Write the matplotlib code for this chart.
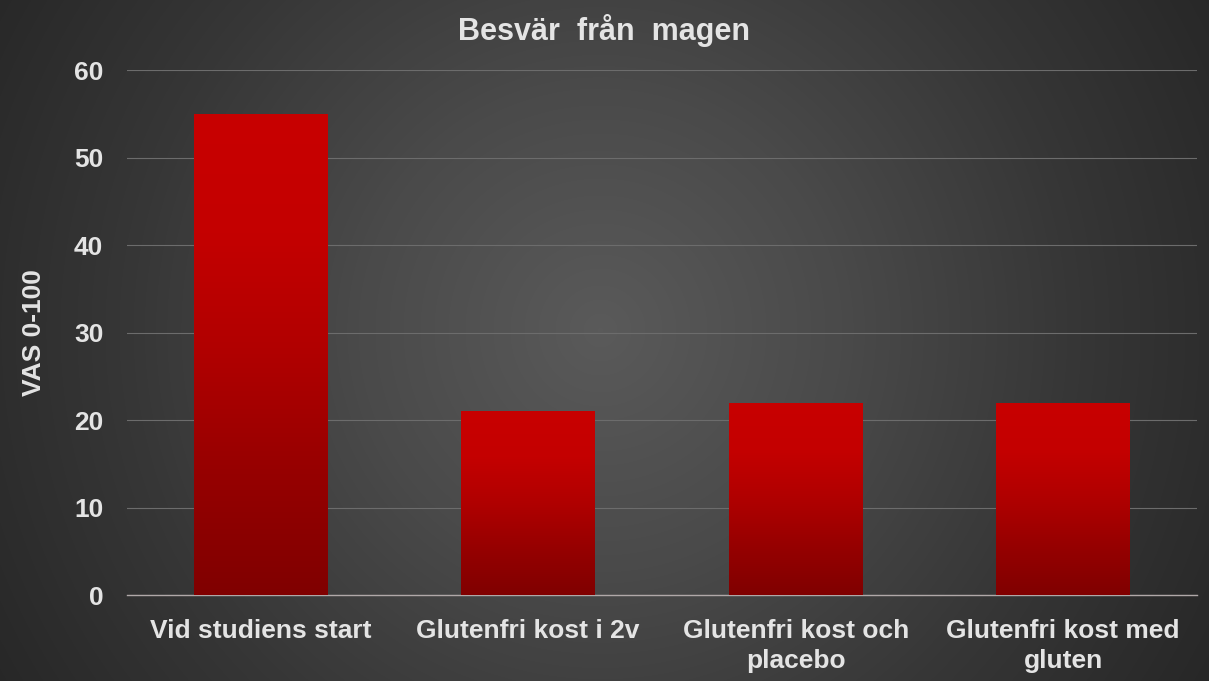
import matplotlib.pyplot as plt
import numpy as np
from matplotlib.colors import LinearSegmentedColormap

plt.rcParams['font.family'] = ['Liberation Sans', 'DejaVu Sans']
plt.rcParams['font.weight'] = 'bold'

categories = ['Vid studiens start', 'Glutenfri kost i 2v', 'Glutenfri kost och\nplacebo', 'Glutenfri kost med\ngluten']
values = [55, 21, 22, 22]
yticks = [0, 10, 20, 30, 40, 50, 60]

txt = '#e4e4e4'

fig = plt.figure(figsize=(12.09, 6.81), dpi=100)

# radial background
bg = fig.add_axes([0, 0, 1, 1])
yy, xx = np.mgrid[0:681, 0:1209]
r = np.sqrt((xx - 600) ** 2 + (yy - 330) ** 2) / 720.0
r = np.clip(r, 0, 1)
bgmap = LinearSegmentedColormap.from_list('bg', ['#5a5a5a', '#4a4a4a', '#363636', '#262626'])
bg.imshow(r, cmap=bgmap, vmin=0, vmax=1, aspect='auto', extent=[0, 1, 0, 1])
bg.axis('off')

ax = fig.add_axes([0.105, 0.126, 0.885, 0.771])
ax.set_facecolor('none')
x = np.arange(len(categories))
bars = ax.bar(x, values, width=0.5, color='none', edgecolor='none', zorder=3)

redmap = LinearSegmentedColormap.from_list('red', ['#800000', '#960000', '#b00000', '#c40000', '#c80000'])
grad = np.linspace(0, 1, 256).reshape(-1, 1)
for b in bars:
    x0, w, h = b.get_x(), b.get_width(), b.get_height()
    im = ax.imshow(grad, cmap=redmap, extent=[x0, x0 + w, 0, h], origin='lower',
                   aspect='auto', zorder=3)
    im.set_clip_path(b)

ax.set_xlim(-0.5, len(categories) - 0.5)
ax.set_ylim(0, 60)
ax.set_yticks(yticks)
ax.set_xticks(x)
ax.set_xticklabels(categories, fontsize=19, color=txt, linespacing=1.3)
ax.tick_params(axis='y', labelsize=19, labelcolor=txt, length=0, pad=17)
ax.tick_params(axis='x', length=0, pad=17)
ax.grid(axis='y', color='#6c6c6c', linewidth=0.8, zorder=0)
for s in ['top', 'right', 'left']:
    ax.spines[s].set_visible(False)
ax.spines['bottom'].set_color('#b0a8a8')
ax.spines['bottom'].set_linewidth(1.0)
ax.set_ylabel('VAS 0-100', fontsize=19, color=txt, fontweight='bold', va='center')
ax.yaxis.set_label_coords(-0.087, 0.5)

fig.text(0.5, 0.955, 'Besvär  från  magen', ha='center', va='center', fontsize=22, color=txt, fontweight='bold')

fig.savefig('out.png', dpi=100)
